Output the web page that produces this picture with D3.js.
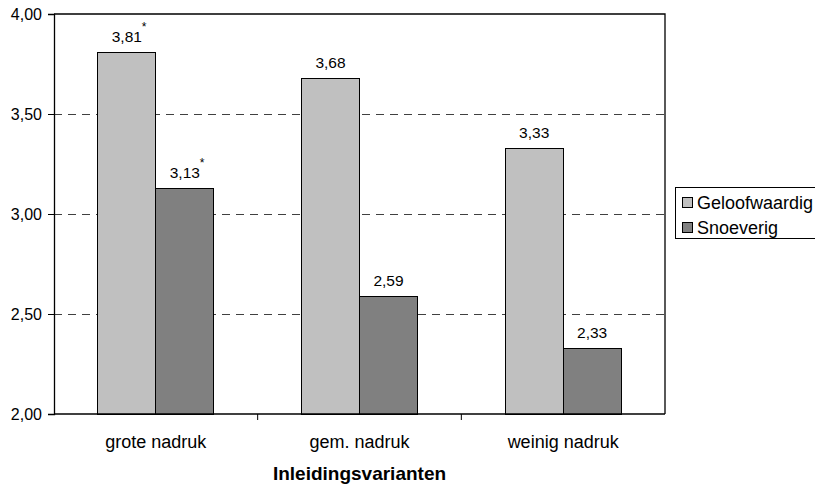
<!DOCTYPE html>
<html>
<head>
<meta charset="utf-8">
<script src="https://cdn.jsdelivr.net/npm/d3@7"></script>
<style>
  html, body { margin: 0; padding: 0; background: #fff; }
  svg { display: block; font-family: "Liberation Sans", Arial, sans-serif; }
</style>
</head>
<body>
<svg id="chart" width="815" height="485"></svg>
<script>
// Categories, series and values
const categories = ["grote nadruk", "gem. nadruk", "weinig nadruk"];
const seriesNames = ["Geloofwaardig", "Snoeverig"];
const geloofwaardig = [3.81, 3.68, 3.33];
const snoeverig = [3.13, 2.59, 2.33];
// significance markers shown after the value labels
const geloofwaardigSig = ["*", "", ""];
const snoeverigSig = ["*", "", ""];
const yTicks = [2.0, 2.5, 3.0, 3.5, 4.0];
const axisTitle = "Inleidingsvarianten";

const colors = ["#c0c0c0", "#808080"];
const seriesValues = [geloofwaardig, snoeverig];
const seriesSig = [geloofwaardigSig, snoeverigSig];

const nl = d3.formatLocale({ decimal: ",", thousands: ".", grouping: [3], currency: ["€", ""] });
const fmt = nl.format(".2f");

const svg = d3.select("#chart");
const plot = { left: 54, right: 665, top: 14, bottom: 414 };

const x = d3.scaleBand().domain(categories).range([plot.left, plot.right]).padding(0);
const xs = d3.scaleBand().domain(seriesNames).range([0, x.bandwidth()])
  .paddingInner(0).paddingOuter(0.756);
const y = d3.scaleLinear().domain([2, 4]).range([plot.bottom, plot.top]);

// dashed gridlines
svg.append("g").selectAll("line")
  .data(yTicks.filter(t => t > 2 && t < 4))
  .join("line")
  .attr("x1", plot.left).attr("x2", plot.right)
  .attr("y1", d => y(d)).attr("y2", d => y(d))
  .attr("stroke", "#404040").attr("stroke-width", 1)
  .attr("stroke-dasharray", "8,6")
  .attr("shape-rendering", "crispEdges");

// bars
const rows = [];
categories.forEach((c, i) => seriesNames.forEach((s, j) => {
  rows.push({ cat: c, series: s, value: seriesValues[j][i], sig: seriesSig[j][i], color: colors[j] });
}));

svg.append("g").selectAll("rect")
  .data(rows)
  .join("rect")
  .attr("x", d => x(d.cat) + xs(d.series))
  .attr("y", d => y(d.value))
  .attr("width", xs.bandwidth())
  .attr("height", d => y(2) - y(d.value))
  .attr("fill", d => d.color)
  .attr("stroke", "#000").attr("stroke-width", 1)
  .attr("shape-rendering", "crispEdges");

// value labels
svg.append("g").selectAll("text")
  .data(rows)
  .join("text")
  .attr("x", d => x(d.cat) + xs(d.series) + xs.bandwidth() / 2)
  .attr("y", d => y(d.value) - 10)
  .attr("text-anchor", "middle")
  .attr("font-size", "15.5px")
  .attr("fill", "#000")
  .text(d => fmt(d.value));

svg.append("g").selectAll("text")
  .data(rows.filter(d => d.sig))
  .join("text")
  .attr("x", d => x(d.cat) + xs(d.series) + xs.bandwidth() / 2 + 15)
  .attr("y", d => y(d.value) - 21)
  .attr("font-size", "12px")
  .attr("fill", "#000")
  .text(d => d.sig);

// plot frame (top and right)
svg.append("path")
  .attr("d", `M${plot.left},${plot.top}H${plot.right}V${plot.bottom}`)
  .attr("fill", "none").attr("stroke", "#000").attr("stroke-width", 1.3);

// y axis
const yAxis = d3.axisLeft(y).tickValues(yTicks).tickSize(6).tickPadding(6).tickFormat(fmt);
const gy = svg.append("g").attr("transform", `translate(${plot.left},0)`).call(yAxis);
gy.select(".domain").attr("stroke", "#000").attr("stroke-width", 1.3);
gy.selectAll(".tick line").attr("stroke", "#000");
gy.selectAll(".tick text").attr("font-size", "16px").attr("font-family", "Liberation Sans, Arial, sans-serif").attr("fill", "#000").attr("dy", "0.36em");

// x axis with ticks between categories
const boundaries = categories.map(c => x(c)).concat([plot.right]);
const gx = svg.append("g");
gx.append("line")
  .attr("x1", plot.left).attr("x2", plot.right)
  .attr("y1", plot.bottom).attr("y2", plot.bottom)
  .attr("stroke", "#000").attr("stroke-width", 1.3);
gx.selectAll("line.bt")
  .data(boundaries.slice(1, -1))
  .join("line").attr("class", "bt")
  .attr("x1", d => d).attr("x2", d => d)
  .attr("y1", plot.bottom).attr("y2", plot.bottom + 6)
  .attr("stroke", "#000");
gx.selectAll("text")
  .data(categories)
  .join("text")
  .attr("x", d => x(d) + x.bandwidth() / 2)
  .attr("y", 448)
  .attr("text-anchor", "middle")
  .attr("font-size", "18px")
  .attr("fill", "#000")
  .text(d => d);

// axis title
svg.append("text")
  .attr("x", (plot.left + plot.right) / 2)
  .attr("y", 480)
  .attr("text-anchor", "middle")
  .attr("font-size", "19px")
  .attr("font-weight", "bold")
  .attr("fill", "#000")
  .text(axisTitle);

// legend
const lg = svg.append("g");
lg.append("rect")
  .attr("x", 675.5).attr("y", 187.5).attr("width", 150).attr("height", 51)
  .attr("fill", "#fff").attr("stroke", "#000").attr("stroke-width", 1);
const items = lg.selectAll("g.item")
  .data(seriesNames)
  .join("g").attr("class", "item")
  .attr("transform", (d, i) => `translate(0,${i * 25})`);
items.append("rect")
  .attr("x", 682.5).attr("y", 197.5).attr("width", 10).attr("height", 10)
  .attr("fill", (d, i) => colors[i]).attr("stroke", "#000");
items.append("text")
  .attr("x", 697).attr("y", 208.5)
  .attr("font-size", "18px").attr("fill", "#000")
  .text(d => d);
</script>
</body>
</html>
